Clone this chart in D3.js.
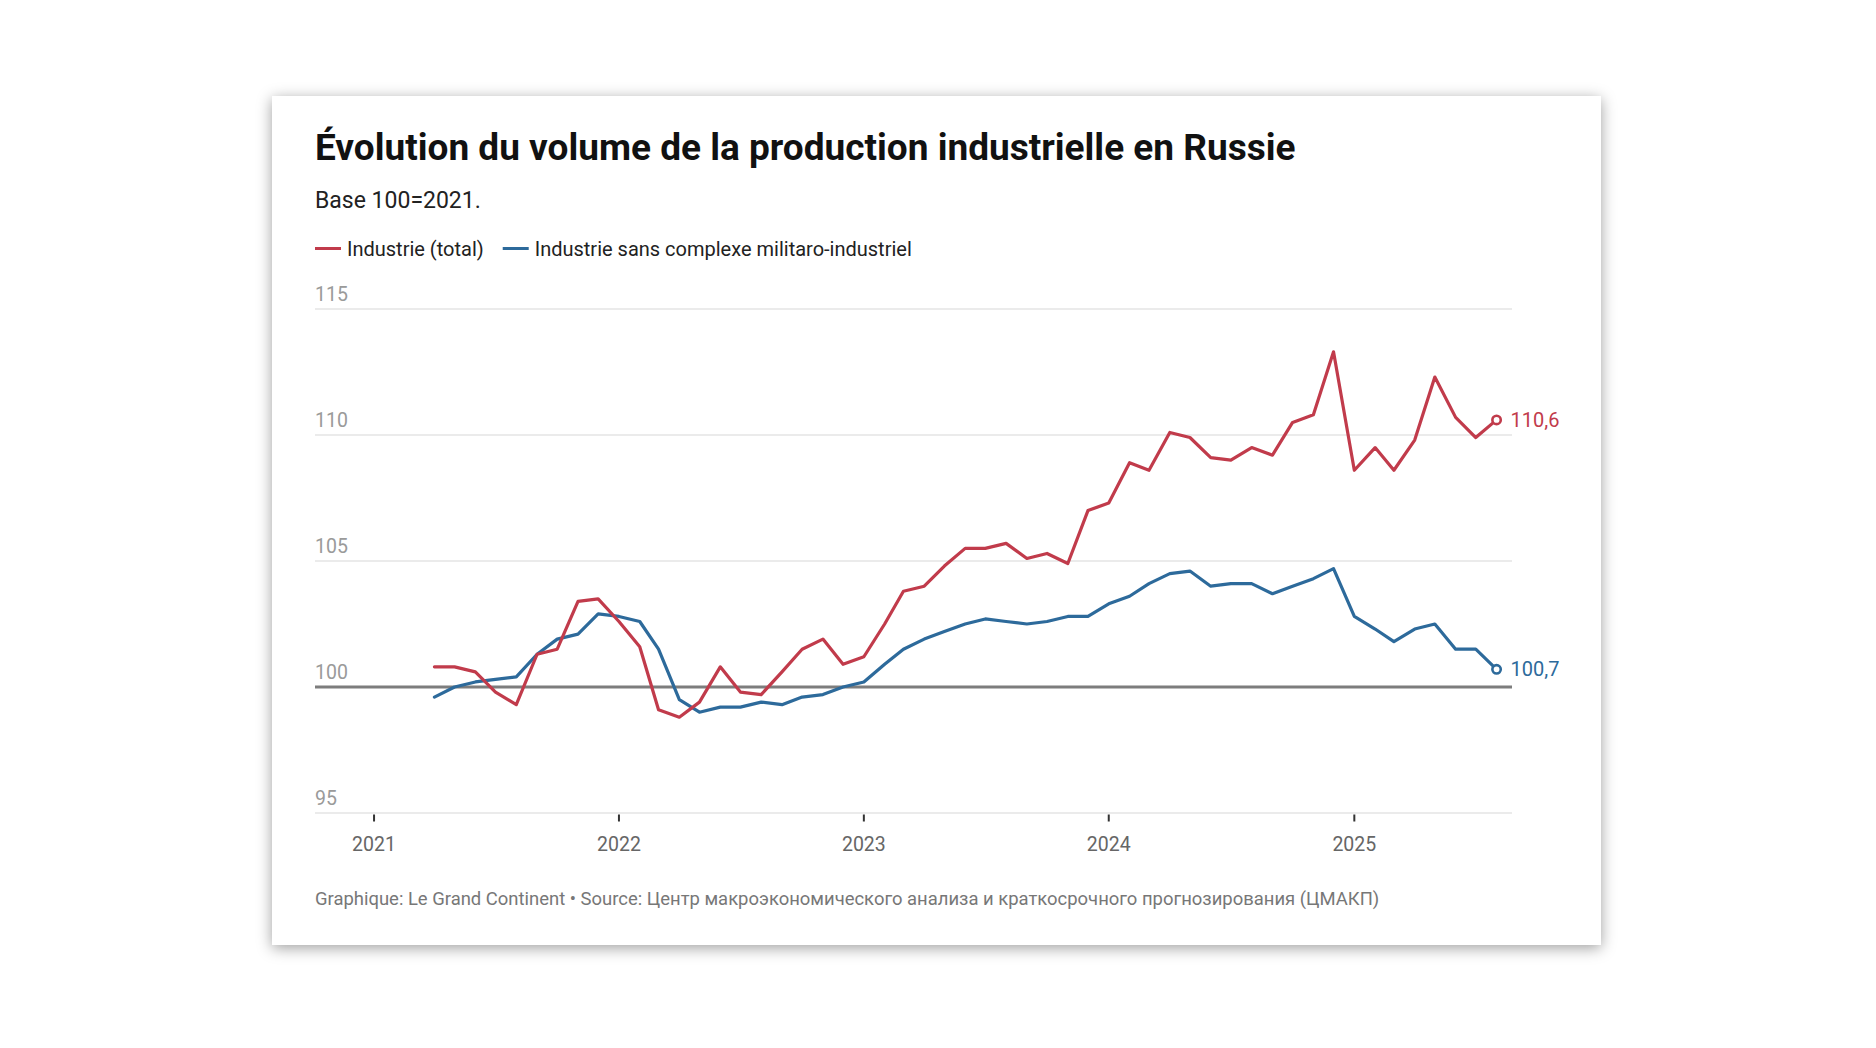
<!DOCTYPE html>
<html>
<head>
<meta charset="utf-8">
<script src="https://cdn.jsdelivr.net/npm/d3@7"></script>
<style>
  html, body { margin: 0; padding: 0; background: #ffffff; }
  body { width: 1876px; height: 1048px; position: relative; overflow: hidden; font-family: Roboto, "Noto Sans", sans-serif; }
  #card { position: absolute; left: 272px; top: 96px; width: 1329px; height: 849px; background: #fff;
          box-shadow: 0 3px 14px rgba(0,0,0,0.38); }
  svg { position: absolute; left: 0; top: 0; }
</style>
</head>
<body>
<div id="card"></div>
<svg id="chart" width="1876" height="1048"></svg>
<script>
// ---- Data ----
const months = [
  "2021-04","2021-05","2021-06","2021-07","2021-08","2021-09","2021-10","2021-11","2021-12",
  "2022-01","2022-02","2022-03","2022-04","2022-05","2022-06","2022-07","2022-08","2022-09","2022-10","2022-11","2022-12",
  "2023-01","2023-02","2023-03","2023-04","2023-05","2023-06","2023-07","2023-08","2023-09","2023-10","2023-11","2023-12",
  "2024-01","2024-02","2024-03","2024-04","2024-05","2024-06","2024-07","2024-08","2024-09","2024-10","2024-11","2024-12",
  "2025-01","2025-02","2025-03","2025-04","2025-05","2025-06","2025-07","2025-08"
];
const industrieTotal = [
  100.8,100.8,100.6,99.8,99.3,101.3,101.5,103.4,103.5,
  102.6,101.6,99.1,98.8,99.4,100.8,99.8,99.7,100.6,101.5,101.9,100.9,
  101.2,102.5,103.8,104.0,104.8,105.5,105.5,105.7,105.1,105.3,104.9,107.0,
  107.3,108.9,108.6,110.1,109.9,109.1,109.0,109.5,109.2,110.5,110.8,113.3,
  108.6,109.5,108.6,109.8,112.3,110.7,109.9,110.6
];
const industrieSansMIC = [
  99.6,100.0,100.2,100.3,100.4,101.3,101.9,102.1,102.9,
  102.8,102.6,101.5,99.5,99.0,99.2,99.2,99.4,99.3,99.6,99.7,100.0,
  100.2,100.9,101.5,101.9,102.2,102.5,102.7,102.6,102.5,102.6,102.8,102.8,
  103.3,103.6,104.1,104.5,104.6,104.0,104.1,104.1,103.7,104.0,104.3,104.7,
  102.8,102.3,101.8,102.3,102.5,101.5,101.5,100.7
];
const endLabels = ["110,6", "100,7"];
const yTicks = [95, 100, 105, 110, 115];
const xTickYears = [2021, 2022, 2023, 2024, 2025];
const seriesNames = ["Industrie (total)", "Industrie sans complexe militaro-industriel"];

const title = "Évolution du volume de la production industrielle en Russie";
const subtitle = "Base 100=2021.";
const footer = "Graphique: Le Grand Continent • Source: Центр макроэкономического анализа и краткосрочного прогнозирования (ЦМАКП)";

const RED = "#c13b4b", BLUE = "#2d6a9b";

// ---- Layout ----
const plotLeft = 315, plotRight = 1512, plotTop = 309, plotBottom = 813;
const svg = d3.select("#chart");
const parse = d3.utcParse("%Y-%m");
const dates = months.map(parse);

const x = d3.scaleUtc()
  .domain([new Date(Date.UTC(2020, 9, 5)), new Date(Date.UTC(2025, 7, 24))])
  .range([plotLeft, plotRight]);
const y = d3.scaleLinear().domain([95, 115]).range([plotBottom, plotTop]);

// Title etc.
svg.append("text").attr("x", 315).attr("y", 160)
  .attr("font-family", "Roboto").attr("font-weight", 700).attr("font-size", 37)
  .attr("fill", "#111").text(title);
svg.append("text").attr("x", 315).attr("y", 207.5)
  .attr("font-family", "Roboto").attr("font-size", 23)
  .attr("fill", "#222").text(subtitle);

// Legend
const leg = svg.append("g");
let lx = 315;
[[seriesNames[0], RED], [seriesNames[1], BLUE]].forEach(([name, col]) => {
  leg.append("line").attr("x1", lx).attr("x2", lx + 26).attr("y1", 248.5).attr("y2", 248.5)
    .attr("stroke", col).attr("stroke-width", 3);
  const t = leg.append("text").attr("x", lx + 32).attr("y", 255.5)
    .attr("font-family", "Roboto").attr("font-size", 20).attr("fill", "#222").text(name);
  lx = lx + 32 + t.node().getComputedTextLength() + 19;
});

// Gridlines + y labels
const grid = svg.append("g");
yTicks.forEach(v => {
  if (v !== 100) {
    grid.append("line").attr("x1", plotLeft).attr("x2", plotRight)
      .attr("y1", y(v)).attr("y2", y(v)).attr("stroke", "#e4e4e4").attr("stroke-width", 1.5);
  }
  grid.append("text").attr("x", plotLeft).attr("y", y(v) - 8.5)
    .attr("font-family", "Roboto").attr("font-size", 19.5).attr("fill", "#9a9a9a").text(v);
});

// X axis ticks + labels
const xa = svg.append("g");
xTickYears.forEach(yr => {
  const xx = x(new Date(Date.UTC(yr, 0, 1)));
  xa.append("line").attr("x1", xx).attr("x2", xx).attr("y1", plotBottom + 1.5).attr("y2", plotBottom + 8.5)
    .attr("stroke", "#333").attr("stroke-width", 2);
  xa.append("text").attr("x", xx).attr("y", 851).attr("text-anchor", "middle")
    .attr("font-family", "Roboto").attr("font-size", 19.5).attr("fill", "#666").text(yr);
});

// Baseline 100
svg.append("line").attr("x1", plotLeft).attr("x2", plotRight)
  .attr("y1", y(100)).attr("y2", y(100)).attr("stroke", "#7d7d7d").attr("stroke-width", 3);

// Lines
const line = d3.line().x((d, i) => x(dates[i])).y(d => y(d));
[[industrieSansMIC, BLUE, endLabels[1]], [industrieTotal, RED, endLabels[0]]].forEach(([vals, col, lab]) => {
  svg.append("path").datum(vals).attr("d", line)
    .attr("fill", "none").attr("stroke", col).attr("stroke-width", 3.2)
    .attr("stroke-linejoin", "round").attr("stroke-linecap", "round");
  const li = vals.length - 1;
  svg.append("circle").attr("cx", x(dates[li])).attr("cy", y(vals[li])).attr("r", 4.2)
    .attr("fill", "#fff").attr("stroke", col).attr("stroke-width", 2.6);
  svg.append("text").attr("x", x(dates[li]) + 14).attr("y", y(vals[li])).attr("dy", "0.35em")
    .attr("font-family", "Roboto").attr("font-size", 20).attr("fill", col).text(lab);
});

// Footer
svg.append("text").attr("x", 315).attr("y", 905)
  .attr("font-family", "Roboto").attr("font-size", 18.45).attr("fill", "#777").text(footer);
</script>
</body>
</html>
